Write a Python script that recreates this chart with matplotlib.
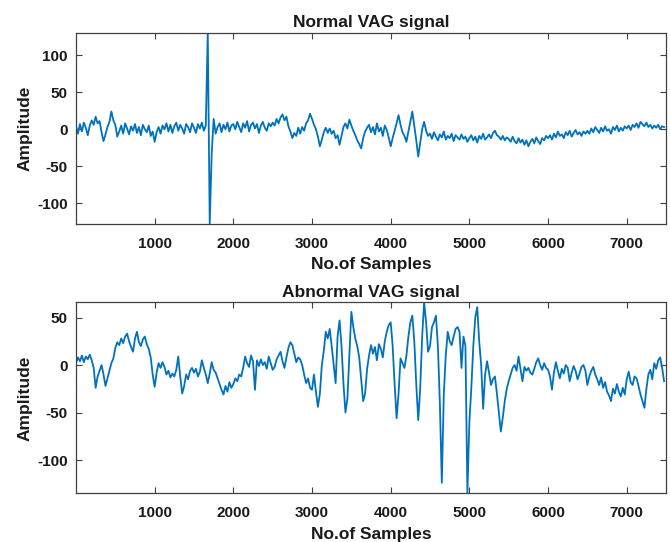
import numpy as np
import matplotlib
matplotlib.use("Agg")
import matplotlib.pyplot as plt

# VAG recordings, read every 25 samples off the figure
STEP = 25

normal_vag = [
    4, -6, 7, -3, 9, 2, -8, 5, 12, 6, 17, 8, 11, -4, -16, -7, 3, 10, 24, 12,
    6, -10, -3, 5, -6, 8, 1, -7, 4, -2, 7, -5, 3, -8, 6, 0, -4, 5, -9, -3,
    -17, -4, 3, -6, 5, 0, 8, -3, 6, -5, 4, 9, -2, 6, 1, -6, 7, 3, -4, 8,
    2, -5, 7, 1, 9, -2, 5, 130, -128, -33, 14, -6, 3, 8, -4, 6, 0, 9, -3, 5,
    7, 0, 10, 3, -4, 8, 2, 11, -3, 6, 9, 1, 7, -5, 5, 10, 2, -2, 8, 4,
    9, 5, 14, 8, 16, 20, 12, 17, 4, -3, -12, -5, -9, 2, -6, 3, -2, 8, 12, 21,
    14, 6, 0, -10, -23, -14, -4, 2, -5, 1, -6, -2, -12, -8, -21, -9, 3, 8, 1, 13,
    5, -2, -8, -15, -20, -26, -12, -3, 2, 6, -4, 3, -7, 8, -3, 2, -9, 5, -1, -11,
    -23, -12, -2, 8, 19, 6, -4, -9, -17, -3, 10, 24, 5, -15, -37, -18, 0, 10, -2, -9,
    -6, -13, -4, -10, -15, -7, -11, -3, -14, -9, -12, -6, -16, -8, -11, -14, -7, -13, -10, -17,
    -12, -8, -15, -10, -18, -9, -13, -6, -14, -11, -7, -12, -5, -2, -8, -10, -14, -9, -15, -11,
    -13, -17, -10, -16, -19, -12, -18, -14, -21, -15, -23, -17, -13, -19, -11, -16, -20, -12, -15, -9,
    -12, -8, -14, -6, -11, -3, -9, -7, -12, -4, -8, -2, -10, -5, -1, -7, -4, -9, -3, -6,
    -2, -6, 1, -4, 3, -1, -5, 2, -3, 4, -2, 0, -6, 3, -1, 5, -3, 2, -2, 4,
    1, 5, -1, 6, 3, 8, 2, 10, 7, 4, 9, 3, 6, 1, 5, 2, 6, 0, 4, 3,
]

abnormal_vag = [
    2, 8, 4, 10, 3, 9, 6, 11, 5, -3, -24, -12, -6, 0, -10, -22, -14, -6, 2, 7,
    18, 24, 21, 28, 23, 30, 33, 25, 19, 14, 28, 35, 24, 20, 27, 30, 22, 17, 8, -10,
    -23, -8, 2, -3, 3, -2, -10, -6, -13, -9, -12, -5, 9, -12, -30, -22, -10, -15, -6, -3,
    -8, -4, -12, -7, 5, -3, -10, -19, -9, 3, -5, -8, -14, -20, -26, -31, -22, -28, -18, -24,
    -20, -14, -17, -10, -12, -3, 9, 2, -2, 10, 4, -26, 5, -1, 6, 0, 3, -4, 9, 2,
    -5, -2, 6, 10, 14, 4, -3, 8, 18, 24, 21, 12, 3, 8, 6, 0, -10, -19, -14, -24,
    -26, -10, -28, -44, -30, 0, 15, 35, 28, 38, 20, 0, -19, 30, 47, 20, -20, -50, -35, 10,
    56, 40, 28, 20, 8, -15, -38, -30, -4, 10, 21, 12, 19, 5, 22, 17, 8, 25, 35, 42,
    45, 20, -20, -56, -30, 7, 2, -3, 10, 30, 45, 52, 25, -20, -58, -25, 30, 66, 45, 14,
    20, 40, 45, 52, 20, -40, -124, -31, 10, 35, 25, 21, 30, 38, 40, 35, -3, 30, 20, -135,
    -60, -24, 20, 50, 61, 25, 0, -46, -10, 4, -8, -21, -15, -12, -30, -50, -70, -55, -38, -25,
    -17, -10, -3, 0, -6, 9, -4, -17, -2, -6, -3, -8, -10, -4, 3, 7, 0, -5, 2, -3,
    -5, -12, -26, -8, 3, -6, -14, -4, -9, 0, -3, -17, -8, -1, -6, -15, -9, -2, 0, -6,
    -21, -12, -6, -2, -10, -15, -21, -13, -24, -18, -28, -32, -38, -25, -30, -20, -28, -33, -24, -31,
    -15, -7, -18, -21, -12, -14, -22, -31, -38, -45, -25, -10, -5, -15, 2, -4, 5, 8, -3, -17,
]

titles = ["Normal VAG signal", "Abnormal VAG signal"]
x_ticks = [1000, 2000, 3000, 4000, 5000, 6000, 7000]
y_ticks = [[-100, -50, 0, 50, 100], [-100, -50, 0, 50]]
y_lims = [[-128, 130], [-135, 66]]

plt.rcParams['font.family'] = ['Liberation Sans', 'DejaVu Sans']
plt.rcParams['font.weight'] = 'bold'
plt.rcParams['axes.unicode_minus'] = False

fig = plt.figure(figsize=(6.7, 5.42), dpi=100)
ax_top = fig.add_axes([0.1134, 0.5867, 0.8806, 0.3524])
ax_bot = fig.add_axes([0.1134, 0.0898, 0.8806, 0.3524])

for k, (ax, sig) in enumerate(zip([ax_top, ax_bot], [normal_vag, abnormal_vag])):
    x = np.arange(len(sig)) * STEP + 1
    ax.plot(x, sig, color='#0072BD', linewidth=1.3)
    ax.set_xlim(1, 7500)
    ax.set_ylim(y_lims[k])
    ax.set_xticks(x_ticks)
    ax.set_yticks(y_ticks[k])
    ax.tick_params(direction='in', length=4, width=0.8, top=True, right=True,
                   labelsize=11, color='#404040', labelcolor='#1a1a1a', pad=6)
    ax.tick_params(axis='x', pad=9)
    for sp in ax.spines.values():
        sp.set_color('#404040')
        sp.set_linewidth(0.9)
    ax.set_title(titles[k], fontsize=12.5, fontweight='bold', pad=4, color='#1a1a1a')
    ax.set_xlabel("No.of Samples", fontsize=12.5, fontweight='bold', labelpad=5,
                  color='#1a1a1a')
    ax.set_ylabel("Amplitude", fontsize=12.5, fontweight='bold', labelpad=3,
                  color='#1a1a1a')

plt.savefig("out.png", dpi=100)
